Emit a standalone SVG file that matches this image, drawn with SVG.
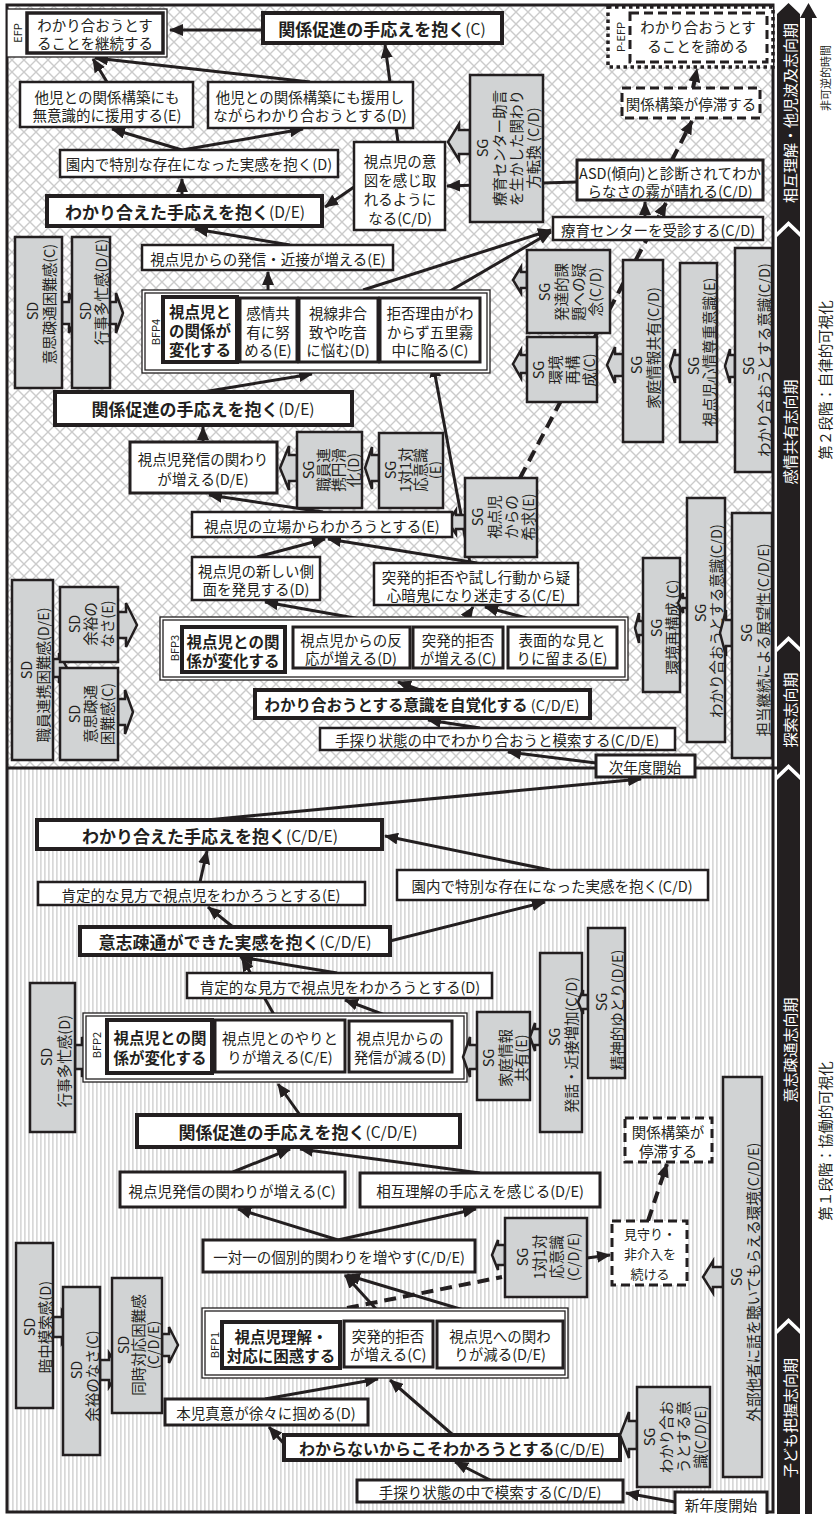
<svg xmlns="http://www.w3.org/2000/svg" width="834" height="1514" viewBox="0 0 834 1514">
<defs>
<style>
.t{font-family:"Noto Sans CJK JP","Noto Sans",sans-serif;font-size:14.5px;fill:#231f20;text-anchor:middle;dominant-baseline:central}
.b{font-weight:bold;font-size:17px}
.b2{font-weight:bold;font-size:15.5px}
.s{font-size:11px}
.w{fill:#fff;font-size:15px}
.n{font-weight:normal;font-size:15.5px}
.bx{fill:#fff;stroke:#231f20;stroke-width:2.5}
.bb{fill:#fff;stroke:#231f20;stroke-width:4}
.bs{fill:#fff;stroke:#231f20;stroke-width:3}
.g{fill:#d1d3d4;stroke:#231f20;stroke-width:2.5;stroke-linejoin:miter}
.db{fill:#fff;stroke:#231f20;stroke-width:3;stroke-dasharray:9 5}
.bf{fill:#fff;stroke:#231f20;stroke-width:1.3}
.c{fill:none;stroke:#231f20;stroke-width:3;marker-end:url(#ah)}
.d{fill:none;stroke:#231f20;stroke-width:4;stroke-dasharray:12 7}
.bar{fill:#231f20}
</style>
<marker id="ah" markerUnits="userSpaceOnUse" markerWidth="14" markerHeight="12" viewBox="0 0 14 12" refX="13" refY="6" orient="auto"><path d="M0,0L14,6L0,12z" fill="#231f20"/></marker>
<pattern id="xh" width="12" height="12" patternUnits="userSpaceOnUse"><rect width="12" height="12" fill="#fff"/><path d="M0,0L12,12M12,0L0,12" stroke="#cbcbcb" stroke-width="1.4"/></pattern>
<pattern id="st" width="4" height="4" patternUnits="userSpaceOnUse"><rect width="4" height="4" fill="#fff"/><rect width="1.7" height="4" fill="#d8d8d8"/></pattern>
</defs>

<g id="background">
<rect x="7" y="5" width="766" height="763" fill="url(#xh)"/>
<rect x="7" y="768" width="766" height="744" fill="url(#st)"/>
<rect x="7" y="5" width="766" height="1507" fill="none" stroke="#231f20" stroke-width="3"/>
<line x1="7" y1="768" x2="777" y2="768" stroke="#231f20" stroke-width="3"/>
</g>

<g id="timeline">
<polygon class="bar" points="788.5,3 800,14 800,232 788.5,221 777,232 777,14"/>
<polygon class="bar" points="788.5,226 800,237 800,647 788.5,636 777,647 777,237"/>
<polygon class="bar" points="788.5,641 800,652 800,775 788.5,764 777,775 777,652"/>
<polygon class="bar" points="788.5,769 800,780 800,1329 788.5,1318 777,1329 777,780"/>
<polygon class="bar" points="788.5,1323 800,1334 800,1514 777,1514 777,1334"/>
<text class="t w" transform="translate(789,113) rotate(-90)">相互理解・他児波及志向期</text>
<text class="t w" transform="translate(789,432) rotate(-90)">感情共有志向期</text>
<text class="t w" transform="translate(789,710) rotate(-90)">探索志向期</text>
<text class="t w" transform="translate(789,1050) rotate(-90)">意志疎通志向期</text>
<text class="t w" transform="translate(789,1418) rotate(-90)">子ども把握志向期</text>
<polygon class="bar" points="800,18 808.5,3 817,18 812,18 812,1514 805,1514 805,18"/>
<text class="t s" transform="translate(825,78) rotate(-90)">非可逆的時間</text>
<text class="t" transform="translate(824,380) rotate(-90)">第２段階：自律的可視化</text>
<text class="t" transform="translate(824,1141) rotate(-90)">第１段階：協働的可視化</text>
</g>

<g id="connectors">
<path class="c" d="M263,30L170,30"/>
<path class="c" d="M107,82L93,59"/>
<path class="c" d="M310,82L95,58"/>
<path class="c" d="M182,150L112,129"/>
<path class="c" d="M182,150L303,129"/>
<path class="c" d="M398,142L385,45"/>
<path class="c" d="M182,196L182,179"/>
<path class="c" d="M354,187L325,207"/>
<path class="c" d="M290,245L195,229"/>
<path class="c" d="M268,290L268,272"/>
<path class="c" d="M438,298L551,232"/>
<path class="c" d="M363,290L551,230"/>
<path class="c" d="M577,182L447,186"/>
<path class="c" d="M645,217L645,202"/>
<path class="d" d="M520,478L666,203" style="marker-end:url(#ah)"/>
<path class="d" d="M672,160L692,121" style="marker-end:url(#ah)"/>
<path class="d" d="M693,88L697,69" style="marker-end:url(#ah)"/>
<path class="c" d="M203,392L312,374"/>
<path class="c" d="M203,442L203,427"/>
<path class="c" d="M323,512L209,495"/>
<path class="c" d="M470,563L433,364"/>
<path class="c" d="M477,563L328,539"/>
<path class="c" d="M257,557L325,539"/>
<path class="c" d="M405,627L265,602"/>
<path class="c" d="M460,627L473,607"/>
<path class="c" d="M560,627L485,607"/>
<path class="c" d="M420,690L398,682"/>
<path class="c" d="M480,728L428,720"/>
<path class="c" d="M596,763L508,752"/>
<path class="c" d="M207,820L641,779"/>
<path class="c" d="M200,882L207,851"/>
<path class="c" d="M233,927L208,907"/>
<path class="c" d="M337,973L240,957"/>
<path class="c" d="M277,1020L242,958"/>
<path class="c" d="M398,1020L345,1000"/>
<path class="c" d="M300,1115L278,1084"/>
<path class="c" d="M390,941L545,902"/>
<path class="c" d="M550,870L385,836"/>
<path class="c" d="M233,1172L290,1149"/>
<path class="c" d="M480,1173L300,1149"/>
<path class="c" d="M338,1240L238,1209"/>
<path class="c" d="M338,1240L476,1209"/>
<path class="c" d="M387,1321L345,1275"/>
<path class="c" d="M500,1321L347,1275"/>
<path class="d" d="M347,1308L502,1277"/>
<path class="c" d="M587,1258L610,1255"/>
<path class="d" d="M648,1221L667,1164" style="marker-end:url(#ah)"/>
<path class="c" d="M265,1399L378,1379"/>
<path class="c" d="M287,1447L269,1427"/>
<path class="c" d="M453,1435L390,1380"/>
<path class="c" d="M490,1480L455,1462"/>
<path class="c" d="M675,1502L626,1493"/>
</g>

<g id="efp">
<rect class="bf" x="7" y="9" width="160" height="48"/>
<rect class="bs" x="27" y="13" width="136" height="40" style="stroke-width:3.5"/>
<text class="t s" transform="translate(17,33) rotate(-90)">EFP</text>
<text class="t" x="95" y="24">わかり合おうとす</text>
<text class="t" x="95" y="42">ることを継続する</text>
</g>
<g id="pefp">
<rect x="608" y="7" width="165" height="60" fill="#fff" stroke="#231f20" stroke-width="3.5" stroke-dasharray="3.5 3.5"/>
<rect class="db" x="630" y="13" width="137" height="49"/>
<text class="t s" transform="translate(620,37) rotate(-90)">P-EFP</text>
<text class="t" x="698" y="26">わかり合おうとす</text>
<text class="t" x="698" y="45">ることを諦める</text>
</g>
<g id="n_kankei_c">
<rect class="bb" x="263" y="13" width="239" height="30"/>
<text class="t b" x="382" y="28">関係促進の手応えを抱く<tspan class="n">(C)</tspan></text>
</g>
<g id="n_taji_e">
<rect class="bx" x="20" y="82" width="173" height="45"/>
<text class="t" x="107" y="96">他児との関係構築にも</text>
<text class="t" x="107" y="114">無意識的に援用する(E)</text>
</g>
<g id="n_taji_d">
<rect class="bx" x="208" y="82" width="205" height="46"/>
<text class="t" x="310" y="96">他児との関係構築にも援用し</text>
<text class="t" x="310" y="114">ながらわかり合おうとする(D)</text>
</g>
<g id="n_ennai_d">
<rect class="bx" x="60" y="150" width="278" height="27"/>
<text class="t" x="199" y="163">園内で特別な存在になった実感を抱く(D)</text>
</g>
<g id="n_ito">
<rect class="bx" x="354" y="142" width="91" height="88"/>
<text class="t" x="400" y="160">視点児の意</text>
<text class="t" x="400" y="179">図を感じ取</text>
<text class="t" x="400" y="198">れるように</text>
<text class="t" x="400" y="217">なる(C/D)</text>
</g>
<g id="n_wakariaeta_de">
<rect class="bb" x="47" y="196" width="275" height="30"/>
<text class="t b" x="185" y="211">わかり合えた手応えを抱く<tspan class="n">(D/E)</tspan></text>
</g>
<g id="n_hasshin_e">
<rect class="bx" x="142" y="245" width="251" height="25"/>
<text class="t" x="268" y="258">視点児からの発信・近接が増える(E)</text>
</g>
<g id="n_asd">
<rect class="bs" x="577" y="160" width="186" height="40"/>
<text class="t" x="670" y="172">ASD(傾向)と診断されてわか</text>
<text class="t" x="670" y="190">らなさの霧が晴れる(C/D)</text>
</g>
<g id="n_ryoiku">
<rect class="bx" x="553" y="217" width="210" height="23"/>
<text class="t" x="658" y="229">療育センターを受診する(C/D)</text>
</g>
<g id="n_teitai2">
<rect class="db" x="622" y="88" width="138" height="30"/>
<text class="t" x="691" y="103">関係構築が停滞する</text>
</g>
<g id="sg_ryoiku">
<polygon class="g" points="470,130 459,130 459,124 448,142 459,160 459,154 470,154"/>
<rect class="g" x="470" y="75" width="73" height="147"/>
<text class="t" transform="translate(481,148) rotate(-90)">SG</text>
<text class="t" transform="translate(498,148) rotate(-90)">療育センター助言</text>
<text class="t" transform="translate(515,148) rotate(-90)">を生かした関わり</text>
<text class="t" transform="translate(532,148) rotate(-90)">方転換 (C/D)</text>
</g>
<g id="bfp4">
<rect class="bf" x="142" y="290" width="348" height="83"/>
<rect class="bf" x="145" y="293" width="342" height="77"/>
<text class="t s" transform="translate(155,332) rotate(-90)">BFP4</text>
<rect class="bb" x="163" y="297" width="74" height="65"/>
<text class="t b2" x="200" y="311">視点児と</text>
<text class="t b2" x="200" y="330">の関係が</text>
<text class="t b2" x="200" y="349">変化する</text>
<rect class="bs" x="240" y="298" width="57" height="64"/>
<text class="t" x="268" y="312">感情共</text>
<text class="t" x="268" y="331">有に努</text>
<text class="t" x="268" y="349">める(E)</text>
<rect class="bs" x="299" y="298" width="79" height="64"/>
<text class="t" x="338" y="312">視線非合</text>
<text class="t" x="338" y="331">致や吃音</text>
<text class="t" x="338" y="349">に悩む(D)</text>
<rect class="bs" x="380" y="298" width="100" height="64"/>
<text class="t" x="430" y="312">拒否理由がわ</text>
<text class="t" x="430" y="331">からず五里霧</text>
<text class="t" x="430" y="349">中に陥る(C)</text>
</g>
<g id="sd_ishi_c2">
<polygon class="g" points="62,302 69,302 69,293 78,313 69,333 69,324 62,324"/>
<rect class="g" x="15" y="237" width="47" height="151"/>
<text class="t" transform="translate(31,311) rotate(-90)">SD</text>
<text class="t" transform="translate(48,304) rotate(-90)">意思疎通困難感(C)</text>
</g>
<g id="sd_gyoji_de">
<polygon class="g" points="110,302 116,302 116,293 123,313 116,333 116,324 110,324"/>
<rect class="g" x="72" y="237" width="38" height="151"/>
<text class="t" transform="translate(84,311) rotate(-90)">SD</text>
<text class="t" transform="translate(100,292) rotate(-90)">行事多忙感(D/E)</text>
</g>
<g id="sg_hattatsu">
<polygon class="g" points="527,272 521,272 521,267 513,280 521,293 521,288 527,288"/>
<rect class="g" x="527" y="250" width="83" height="83"/>
<text class="t" transform="translate(543,292) rotate(-90)">SG</text>
<text class="t" transform="translate(560,292) rotate(-90)">発達的課</text>
<text class="t" transform="translate(577,292) rotate(-90)">題への疑</text>
<text class="t" transform="translate(594,292) rotate(-90)">念(C/D)</text>
</g>
<g id="sg_kankyo2">
<polygon class="g" points="527,355 521,355 521,350 513,364 521,378 521,373 527,373"/>
<rect class="g" x="527" y="337" width="70" height="65"/>
<text class="t" transform="translate(537,370) rotate(-90)">SG</text>
<text class="t" transform="translate(554,370) rotate(-90)">環境</text>
<text class="t" transform="translate(571,370) rotate(-90)">再構</text>
<text class="t" transform="translate(588,370) rotate(-90)">成(C)</text>
</g>
<g id="sg_katei_cd">
<polygon class="g" points="623,354 615,354 615,347 607,365 615,383 615,376 623,376"/>
<rect class="g" x="623" y="260" width="40" height="182"/>
<text class="t" transform="translate(635,365) rotate(-90)">SG</text>
<text class="t" transform="translate(652,348) rotate(-90)">家庭情報共有(C/D)</text>
</g>
<g id="sg_shinjo">
<polygon class="g" points="680,355 675,355 675,349 670,366 675,383 675,377 680,377"/>
<rect class="g" x="680" y="263" width="37" height="179"/>
<text class="t" transform="translate(692,366) rotate(-90)">SG</text>
<text class="t" transform="translate(708,352) rotate(-90)">視点児心情尊重意識(E)</text>
</g>
<g id="sg_wakari_cd1">
<polygon class="g" points="735,355 730,355 730,349 725,366 730,383 730,377 735,377"/>
<rect class="g" x="735" y="248" width="37" height="224"/>
<text class="t" transform="translate(747,366) rotate(-90)">SG</text>
<text class="t" transform="translate(763,360) rotate(-90)">わかり合おうとする意識(C/D)</text>
</g>
<g id="n_kankei_de">
<rect class="bb" x="55" y="392" width="297" height="33"/>
<text class="t b" x="203" y="408">関係促進の手応えを抱く<tspan class="n">(D/E)</tspan></text>
</g>
<g id="n_kakawari_de">
<rect class="bs" x="130" y="442" width="147" height="51"/>
<text class="t" x="203" y="458">視点児発信の関わり</text>
<text class="t" x="203" y="478">が増える(D/E)</text>
</g>
<g id="sg_shokuin">
<polygon class="g" points="297,455 289,455 289,446 280,468 289,490 289,481 297,481"/>
<rect class="g" x="297" y="432" width="65" height="76"/>
<text class="t" transform="translate(307,470) rotate(-90)">SG</text>
<text class="t" transform="translate(322,470) rotate(-90)">職員連</text>
<text class="t" transform="translate(337,470) rotate(-90)">携円滑</text>
<text class="t" transform="translate(352,470) rotate(-90)">化(D)</text>
</g>
<g id="sg_1tai1_e">
<polygon class="g" points="379,455 372,455 372,447 365,468 372,489 372,481 379,481"/>
<rect class="g" x="379" y="433" width="64" height="75"/>
<text class="t" transform="translate(389,470) rotate(-90)">SG</text>
<text class="t" transform="translate(404,470) rotate(-90)">1対1対</text>
<text class="t" transform="translate(419,470) rotate(-90)">応意識</text>
<text class="t" transform="translate(434,470) rotate(-90)">(E)</text>
</g>
<g id="sg_kikyu">
<polygon class="g" points="465,515 456,515 456,510 448,522 456,534 456,529 465,529"/>
<rect class="g" x="465" y="478" width="72" height="79"/>
<text class="t" transform="translate(476,517) rotate(-90)">SG</text>
<text class="t" transform="translate(493,517) rotate(-90)">視点児</text>
<text class="t" transform="translate(510,517) rotate(-90)">からの</text>
<text class="t" transform="translate(527,517) rotate(-90)">希求(E)</text>
</g>
<g id="n_tachiba">
<rect class="bx" x="192" y="512" width="260" height="25"/>
<text class="t" x="322" y="525">視点児の立場からわかろうとする(E)</text>
</g>
<g id="n_atarashii">
<rect class="bx" x="192" y="557" width="128" height="43"/>
<text class="t" x="256" y="570">視点児の新しい側</text>
<text class="t" x="256" y="588">面を発見する(D)</text>
</g>
<g id="n_meiso">
<rect class="bx" x="374" y="563" width="204" height="42"/>
<text class="t" x="476" y="576">突発的拒否や試し行動から疑</text>
<text class="t" x="476" y="594">心暗鬼になり迷走する(C/E)</text>
</g>
<g id="sd_shokuin">
<polygon class="g" points="53,659 59,659 59,653 67,668 59,683 59,677 53,677"/>
<rect class="g" x="12" y="580" width="41" height="180"/>
<text class="t" transform="translate(25,670) rotate(-90)">SD</text>
<text class="t" transform="translate(42,675) rotate(-90)">職員連携困難感(D/E)</text>
</g>
<g id="sd_yoyu_e">
<polygon class="g" points="118,612 126,612 126,603 137,625 126,647 126,638 118,638"/>
<rect class="g" x="60" y="587" width="58" height="75"/>
<text class="t" transform="translate(73,624) rotate(-90)">SD</text>
<text class="t" transform="translate(89,624) rotate(-90)">余裕の</text>
<text class="t" transform="translate(106,624) rotate(-90)">なさ(E)</text>
</g>
<g id="sd_ishi_c3">
<polygon class="g" points="118,699 125,699 125,690 133,712 125,734 125,725 118,725"/>
<rect class="g" x="60" y="668" width="58" height="92"/>
<text class="t" transform="translate(73,714) rotate(-90)">SD</text>
<text class="t" transform="translate(89,714) rotate(-90)">意思疎通</text>
<text class="t" transform="translate(106,714) rotate(-90)">困難感(C)</text>
</g>
<g id="bfp3">
<rect class="bf" x="160" y="617" width="468" height="63"/>
<rect class="bf" x="163" y="620" width="462" height="57"/>
<text class="t s" transform="translate(174,648) rotate(-90)">BFP3</text>
<rect class="bb" x="182" y="627" width="103" height="45"/>
<text class="t b2" x="233" y="641">視点児との関</text>
<text class="t b2" x="233" y="660">係が変化する</text>
<rect class="bs" x="293" y="627" width="117" height="41"/>
<text class="t" x="351" y="639">視点児からの反</text>
<text class="t" x="351" y="657">応が増える(D)</text>
<rect class="bs" x="413" y="627" width="90" height="41"/>
<text class="t" x="458" y="639">突発的拒否</text>
<text class="t" x="458" y="657">が増える(C)</text>
<rect class="bs" x="508" y="627" width="109" height="41"/>
<text class="t" x="562" y="639">表面的な見と</text>
<text class="t" x="562" y="657">りに留まる(E)</text>
</g>
<g id="sg_kankyo3">
<polygon class="g" points="643,621 639,621 639,613 635,628 639,643 639,635 643,635"/>
<rect class="g" x="643" y="558" width="37" height="134"/>
<text class="t" transform="translate(655,628) rotate(-90)">SG</text>
<text class="t" transform="translate(671,627) rotate(-90)">環境再構成 (C)</text>
</g>
<g id="sg_wakari_cd2">
<polygon class="g" points="687,598 683,598 683,593 678,603 683,613 683,608 687,608"/>
<rect class="g" x="687" y="498" width="38" height="244"/>
<text class="t" transform="translate(699,613) rotate(-90)">SG</text>
<text class="t" transform="translate(715,621) rotate(-90)">わかり合おうとする意識(C/D)</text>
</g>
<g id="sg_tanto">
<polygon class="g" points="732,620 726,620 726,610 720,633 726,656 726,646 732,646"/>
<rect class="g" x="732" y="513" width="40" height="245"/>
<text class="t" transform="translate(745,633) rotate(-90)">SG</text>
<text class="t" transform="translate(762,640) rotate(-90)">担当継続による展望性(C/D/E)</text>
</g>
<g id="n_jikaku">
<rect class="bb" x="255" y="690" width="335" height="28"/>
<text class="t b" x="422" y="704" style="font-size:15.5px">わかり合おうとする意識を自覚化する<tspan class="n" style="font-size:14.5px"> (C/D/E)</tspan></text>
</g>
<g id="n_tesaguri2">
<rect class="bx" x="320" y="728" width="355" height="22"/>
<text class="t" x="497" y="739">手探り状態の中でわかり合おうと模索する(C/D/E)</text>
</g>
<g id="n_jinendo">
<rect class="bs" x="596" y="755" width="99" height="22"/>
<text class="t" x="645" y="766">次年度開始</text>
</g>

<g id="n_wakariaeta_cde">
<rect class="bb" x="37" y="820" width="345" height="29"/>
<text class="t b" x="210" y="835">わかり合えた手応えを抱く<tspan class="n">(C/D/E)</tspan></text>
</g>
<g id="n_kotei_e">
<rect class="bx" x="38" y="882" width="327" height="23"/>
<text class="t" x="201" y="894">肯定的な見方で視点児をわかろうとする(E)</text>
</g>
<g id="n_ennai_cd">
<rect class="bx" x="397" y="870" width="311" height="30"/>
<text class="t" x="552" y="885">園内で特別な存在になった実感を抱く(C/D)</text>
</g>
<g id="n_ishisotsu">
<rect class="bb" x="80" y="927" width="310" height="28"/>
<text class="t b" x="235" y="941">意志疎通ができた実感を抱く<tspan class="n">(C/D/E)</tspan></text>
</g>
<g id="n_kotei_d">
<rect class="bx" x="187" y="973" width="305" height="25"/>
<text class="t" x="340" y="986">肯定的な見方で視点児をわかろうとする(D)</text>
</g>
<g id="sd_gyoji_d">
<polygon class="g" points="75,1045 82,1045 82,1037 90,1057 82,1077 82,1069 75,1069"/>
<rect class="g" x="30" y="983" width="45" height="149"/>
<text class="t" transform="translate(45,1057) rotate(-90)">SD</text>
<text class="t" transform="translate(63,1061) rotate(-90)">行事多忙感(D)</text>
</g>
<g id="bfp2">
<rect class="bf" x="83" y="1013" width="384" height="69"/>
<rect class="bf" x="86" y="1016" width="378" height="63"/>
<text class="t s" transform="translate(96,1045) rotate(-90)">BFP2</text>
<rect class="bb" x="107" y="1020" width="105" height="53"/>
<text class="t b2" x="160" y="1037">視点児との関</text>
<text class="t b2" x="160" y="1057">係が変化する</text>
<rect class="bs" x="215" y="1020" width="130" height="52"/>
<text class="t" x="280" y="1037">視点児とのやりと</text>
<text class="t" x="280" y="1056">りが増える(C/E)</text>
<rect class="bs" x="349" y="1021" width="103" height="51"/>
<text class="t" x="400" y="1037">視点児からの</text>
<text class="t" x="400" y="1056">発信が減る(D)</text>
</g>
<g id="sg_katei_e">
<polygon class="g" points="477,1045 470,1045 470,1037 463,1057 470,1077 470,1069 477,1069"/>
<rect class="g" x="477" y="1012" width="53" height="88"/>
<text class="t" transform="translate(487,1058) rotate(-90)">SG</text>
<text class="t" transform="translate(504,1058) rotate(-90)">家庭情報</text>
<text class="t" transform="translate(520,1058) rotate(-90)">共有(E)</text>
</g>
<g id="sg_hatsuwa">
<polygon class="g" points="540,1029 535,1029 535,1023 530,1037 535,1051 535,1045 540,1045"/>
<rect class="g" x="540" y="953" width="42" height="179"/>
<text class="t" transform="translate(553,1037) rotate(-90)">SG</text>
<text class="t" transform="translate(570,1045) rotate(-90)">発話・近接増加(C/D)</text>
</g>
<g id="sg_seishin">
<polygon class="g" points="588,995 583,995 583,990 578,1002 583,1014 583,1009 588,1009"/>
<rect class="g" x="588" y="928" width="37" height="150"/>
<text class="t" transform="translate(600,1002) rotate(-90)">SG</text>
<text class="t" transform="translate(616,1010) rotate(-90)">精神的ゆとり(D/E)</text>
</g>
<g id="n_kankei_cde">
<rect class="bb" x="137" y="1115" width="323" height="32"/>
<text class="t b" x="298" y="1131">関係促進の手応えを抱く<tspan class="n">(C/D/E)</tspan></text>
</g>
<g id="n_kakawari_c">
<rect class="bs" x="120" y="1172" width="225" height="35"/>
<text class="t" x="232" y="1190">視点児発信の関わりが増える(C)</text>
</g>
<g id="n_sogo">
<rect class="bs" x="360" y="1173" width="240" height="34"/>
<text class="t" x="480" y="1190">相互理解の手応えを感じる(D/E)</text>
</g>
<g id="n_teitai1">
<rect class="db" x="625" y="1118" width="87" height="44"/>
<text class="t" x="668" y="1131">関係構築が</text>
<text class="t" x="668" y="1150">停滞する</text>
</g>
<g id="n_ittaiichi">
<rect class="bs" x="203" y="1240" width="272" height="32"/>
<text class="t" x="339" y="1256">一対一の個別的関わりを増やす(C/D/E)</text>
</g>
<g id="sg_1tai1_cde">
<polygon class="g" points="505,1245 498,1245 498,1240 492,1255 498,1270 498,1265 505,1265"/>
<rect class="g" x="505" y="1218" width="82" height="79"/>
<text class="t" transform="translate(521,1257) rotate(-90)">SG</text>
<text class="t" transform="translate(538,1257) rotate(-90)">1対1対</text>
<text class="t" transform="translate(555,1257) rotate(-90)">応意識</text>
<text class="t" transform="translate(572,1257) rotate(-90)">(C/D/E)</text>
</g>
<g id="n_mimamori">
<rect class="db" x="612" y="1221" width="75" height="64"/>
<text class="t" x="650" y="1233" style="font-size:13px">見守り・</text>
<text class="t" x="650" y="1253" style="font-size:13px">非介入を</text>
<text class="t" x="650" y="1273" style="font-size:13px">続ける</text>
</g>
<g id="sg_gaibu">
<polygon class="g" points="723,1267 713,1267 713,1261 703,1277 713,1293 713,1287 723,1287"/>
<rect class="g" x="723" y="1077" width="39" height="400"/>
<text class="t" transform="translate(735,1277) rotate(-90)">SG</text>
<text class="t" transform="translate(752,1282) rotate(-90)">外部他者に話を聴いてもらえる環境(C/D/E)</text>
</g>
<g id="sd_anchu">
<polygon class="g" points="53,1317 62,1317 62,1311 73,1327 62,1343 62,1337 53,1337"/>
<rect class="g" x="16" y="1243" width="37" height="165"/>
<text class="t" transform="translate(28,1327) rotate(-90)">SD</text>
<text class="t" transform="translate(44,1327) rotate(-90)">暗中模索感(D)</text>
</g>
<g id="sd_yoyu_c">
<polygon class="g" points="100,1360 109,1360 109,1353 120,1370 109,1387 109,1380 100,1380"/>
<rect class="g" x="63" y="1287" width="37" height="168"/>
<text class="t" transform="translate(75,1370) rotate(-90)">SD</text>
<text class="t" transform="translate(91,1376) rotate(-90)">余裕のなさ(C)</text>
</g>
<g id="sd_doji">
<polygon class="g" points="162,1334 169,1334 169,1327 178,1345 169,1363 169,1356 162,1356"/>
<rect class="g" x="112" y="1278" width="50" height="135"/>
<text class="t" transform="translate(122,1345) rotate(-90)">SD</text>
<text class="t" transform="translate(137,1345) rotate(-90)">同時対応困難感</text>
<text class="t" transform="translate(152,1345) rotate(-90)">(C/D/E)</text>
</g>
<g id="bfp1">
<rect class="bf" x="202" y="1308" width="366" height="70"/>
<rect class="bf" x="205" y="1311" width="360" height="64"/>
<text class="t s" transform="translate(214,1345) rotate(-90)">BFP1</text>
<rect class="bb" x="222" y="1322" width="118" height="46"/>
<text class="t b2" x="281" y="1336">視点児理解・</text>
<text class="t b2" x="281" y="1355">対応に困惑する</text>
<rect class="bs" x="344" y="1321" width="89" height="46"/>
<text class="t" x="388" y="1335">突発的拒否</text>
<text class="t" x="388" y="1353">が増える(C)</text>
<rect class="bs" x="437" y="1321" width="126" height="47"/>
<text class="t" x="500" y="1335">視点児への関わ</text>
<text class="t" x="500" y="1353">りが減る(D/E)</text>
</g>
<g id="n_honji">
<rect class="bs" x="165" y="1399" width="203" height="26"/>
<text class="t" x="266" y="1412">本児真意が徐々に掴める(D)</text>
</g>
<g id="n_wakaranai">
<rect class="bb" x="284" y="1435" width="336" height="25"/>
<text class="t b" x="452" y="1448" style="font-size:16px">わからないからこそわかろうとする<tspan class="n" style="font-size:15px">(C/D/E)</tspan></text>
</g>
<g id="sg_wakari_cde">
<polygon class="g" points="637,1421 629,1421 629,1412 620,1435 629,1458 629,1449 637,1449"/>
<rect class="g" x="637" y="1387" width="73" height="100"/>
<text class="t" transform="translate(648,1437) rotate(-90)">SG</text>
<text class="t" transform="translate(665,1437) rotate(-90)">わかり合お</text>
<text class="t" transform="translate(682,1437) rotate(-90)">うとする意</text>
<text class="t" transform="translate(699,1437) rotate(-90)">識(C/D/E)</text>
</g>
<g id="n_tesaguri1">
<rect class="bs" x="357" y="1480" width="266" height="22"/>
<text class="t" x="490" y="1491">手探り状態の中で模索する(C/D/E)</text>
</g>
<g id="n_shinnendo">
<rect class="bs" x="675" y="1492" width="92" height="24"/>
<text class="t" x="721" y="1504">新年度開始</text>
</g>
</svg>
